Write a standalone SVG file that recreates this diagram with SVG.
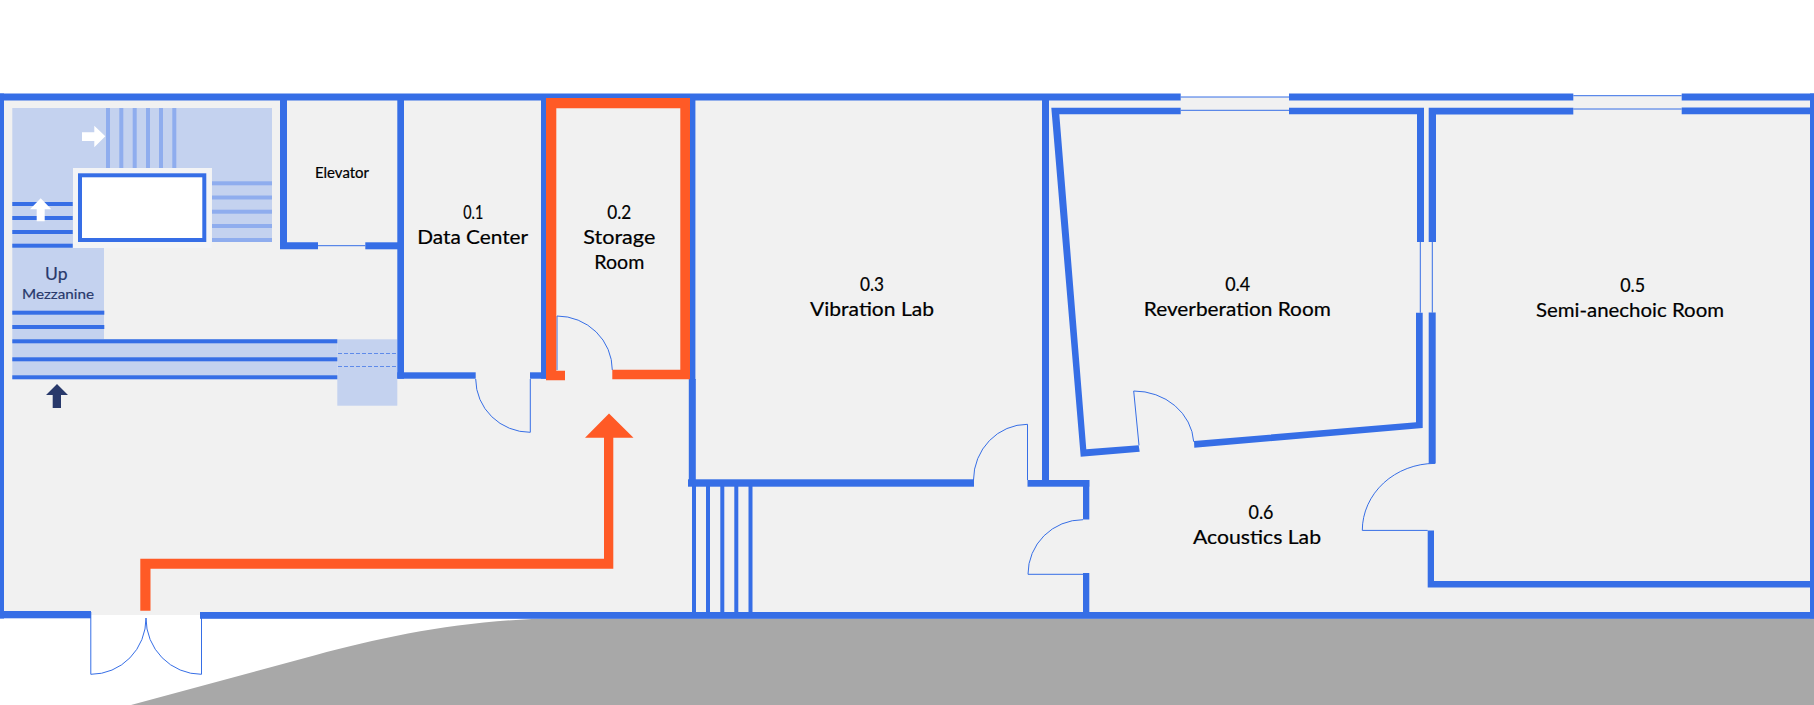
<svg xmlns="http://www.w3.org/2000/svg" width="1814" height="705" viewBox="0 0 1814 705">
<style>
.wall{fill:#366ee6}
.thin{fill:none;stroke:#366ee6;stroke-width:1}
.light{fill:#c4d2ef}
.mid{fill:#8fadee}
.route{fill:#ff5a26}
text{font-family:"Lato","Liberation Sans",sans-serif;font-size:19.5px;fill:#000;stroke:#000;stroke-width:.2;text-anchor:middle}
.nav{fill:#28396b}
text.nav{stroke:#28396b}
</style>
<rect width="1814" height="705" fill="#fff"/>
<path id="ground" d="M131 705L316 655C385 636 470 619 556 618.5L1814 618.5L1814 705Z" fill="#a8a8a8"/>
<rect id="floor" x="0" y="94" width="1814" height="518" fill="#f1f1f1"/>
<rect x="91" y="612" width="109" height="3" fill="#f1f1f1"/>
<g id="window-gaps" fill="#fff">
<rect x="1180.7" y="94" width="108.3" height="3"/>
<rect x="1573.3" y="94" width="108.4" height="2"/>
</g>
<g id="stairs">
<path class="light" d="M12.3 108H272V242H212V168H73V248H104V339H12.3Z"/>
<rect x="73" y="168" width="138.7" height="80" fill="#f3f4f6"/>
<rect x="80" y="175.3" width="124.3" height="64.7" fill="#fff" stroke="#366ee6" stroke-width="4"/>
<g class="mid">
<rect x="106" y="108" width="4" height="60"/><rect x="119.3" y="108" width="4" height="60"/><rect x="132.7" y="108" width="4" height="60"/><rect x="146" y="108" width="4" height="60"/><rect x="159" y="108" width="4" height="60"/><rect x="172.3" y="108" width="4" height="60"/>
<rect x="212" y="181.3" width="60" height="4"/><rect x="212" y="195.5" width="60" height="4"/><rect x="212" y="209.7" width="60" height="4"/><rect x="212" y="224" width="60" height="4"/><rect x="212" y="238" width="60" height="4"/>
</g>
<g class="wall">
<rect x="12.3" y="202" width="60.4" height="4"/><rect x="12.3" y="216" width="60.4" height="4"/><rect x="12.3" y="230" width="60.4" height="4"/><rect x="12.3" y="243.7" width="60.4" height="4"/>
</g>
<path d="M36.7 221.3V209.3H30L40.7 198.3L51.3 209.3H44.7V221.3Z" fill="#fff"/>
<path d="M82 132.3H94.3V125.7L105.3 136.3L94.3 147.3V141H82Z" fill="#fff"/>
<rect class="light" x="12.3" y="339" width="325" height="40"/>
<rect class="light" x="337.3" y="339.3" width="60" height="66.4"/>
<g class="wall">
<rect x="12.3" y="310.7" width="92" height="4"/><rect x="12.3" y="325" width="92" height="4"/>
<rect x="12.3" y="339.3" width="325" height="4"/><rect x="12.3" y="357.3" width="325" height="4"/><rect x="12.3" y="375.3" width="325" height="4"/>
</g>
<path d="M338 353.5H397M338 366.5H397" fill="none" stroke="#5f8bea" stroke-width="1" stroke-dasharray="4 2"/>
<path class="nav" d="M52.7 408V395H46L57 384L68 395H61V408Z"/>
<g id="stairs-south" class="wall">
<rect x="692" y="486" width="4" height="127"/><rect x="706" y="486" width="4" height="127"/><rect x="720.3" y="486" width="4" height="127"/><rect x="734.3" y="486" width="4" height="127"/><rect x="748.5" y="486" width="4" height="127"/>
</g>
</g>
<g id="walls" class="wall">
<rect x="0" y="93.5" width="1180.7" height="7"/>
<rect x="1289" y="93.5" width="284.3" height="7"/>
<rect x="1681.7" y="93.5" width="132.3" height="7"/>
<rect x="0" y="93.5" width="4" height="525"/>
<rect x="1810" y="93.5" width="4" height="525"/>
<rect x="0" y="611" width="91" height="7.3"/>
<rect x="200" y="612" width="1614" height="6.8"/>
<path d="M280 100H287V242.3H318V249.3H280Z"/>
<rect x="365.3" y="242.3" width="38" height="7"/>
<rect x="397.3" y="100" width="6.7" height="278.7"/>
<rect x="397.3" y="372.3" width="78.4" height="6.4"/>
<rect x="530" y="372.3" width="16" height="6.4"/>
<rect x="541" y="100" width="5" height="278.7"/>
<rect x="690" y="100" width="5.4" height="280"/>
<rect x="688.8" y="379" width="7" height="107"/>
<rect x="688" y="479.3" width="286" height="7.4"/>
<rect x="1027.5" y="480" width="61.8" height="6.7"/>
<rect x="1042" y="100" width="7" height="380"/>
<rect x="1083" y="480" width="6.3" height="39.5"/>
<rect x="1083" y="573" width="6.3" height="39"/>
<path d="M1051.3 107.7H1180.7V114.3H1059.3L1086.3 449.3L1138.7 445.3L1139.7 451.7L1080.7 456.7Z"/>
<path d="M1289 107.7H1424V242H1417V114.3H1289Z"/>
<path d="M1416 312.7H1422.7V428L1194.3 447.7L1194 441L1416 422.3Z"/>
<path d="M1428.7 107.7H1573.3V114.4H1436V242H1428.7Z"/>
<rect x="1428.7" y="312.5" width="7" height="151"/>
<path d="M1681.7 107.5H1810V114.3H1681.7Z"/>
<path d="M1427.7 530.4H1434V581H1810V587.5H1427.7Z"/>
</g>
<g id="doors" class="thin">
<path d="M318 245.7H365.3"/>
<path d="M475.7 379A54.5 53.5 0 0 0 530.3 432.3V379"/>
<path d="M557 370V316A55.5 54 0 0 1 612.3 370"/>
<path d="M973.5 480A54 56 0 0 1 1027.5 424.3V480"/>
<path d="M1083 519.7A55 54.5 0 0 0 1028 574.3H1083"/>
<path d="M1139 445.3L1133.7 391A60 54 0 0 1 1193.7 441.7"/>
<path d="M1435 463.4A72.7 67 0 0 0 1362.3 530.4H1427.7"/>
<path d="M90.8 612V674.3A55 56 0 0 0 146 618A55.5 56 0 0 0 201.5 674.3V612"/>
<path d="M1180.7 97H1289M1180.7 110.3H1289"/>
<path d="M1573.3 95.7H1681.7M1573.3 109H1681.7"/>
<path d="M1420.3 242V312.7M1432.3 242V312.7"/>
</g>
<g id="connectors">
<path class="route" d="M140.3 610.7V558.7H604V437.7H585L609 413.5L633.5 437.7H613.3V568.7H150.5V610.7Z"/>
</g>
<g id="room-02-outline">
<path class="route" fill-rule="evenodd" d="M546 98H690V379.3H612.3V369.7H680.3V108.3H556.3V370.7H565V380.3H546Z"/>
</g>
<g id="elevator"><text x="342" y="178.3" style="font-size:14.5px" textLength="54" lengthAdjust="spacingAndGlyphs">Elevator</text></g>
<g id="mezzanine">
<text class="nav" x="56.3" y="280" style="font-size:17.5px">Up</text>
<text class="nav" x="58" y="299" style="font-size:14px" textLength="72" lengthAdjust="spacingAndGlyphs">Mezzanine</text>
</g>
<g id="room-01"><text x="473.3" y="219" textLength="20" lengthAdjust="spacingAndGlyphs">0.1</text><text x="472.7" y="244" textLength="111" lengthAdjust="spacingAndGlyphs">Data Center</text></g>
<g id="room-02"><text x="619.3" y="219" textLength="24" lengthAdjust="spacingAndGlyphs">0.2</text><text x="619.3" y="244" textLength="72" lengthAdjust="spacingAndGlyphs">Storage</text><text x="619.3" y="269" textLength="50" lengthAdjust="spacingAndGlyphs">Room</text></g>
<g id="room-03"><text x="872" y="291" textLength="24" lengthAdjust="spacingAndGlyphs">0.3</text><text x="872" y="316" textLength="124" lengthAdjust="spacingAndGlyphs">Vibration Lab</text></g>
<g id="room-04"><text x="1237.7" y="291" textLength="25" lengthAdjust="spacingAndGlyphs">0.4</text><text x="1237.3" y="316" textLength="187" lengthAdjust="spacingAndGlyphs">Reverberation Room</text></g>
<g id="room-05"><text x="1632.7" y="291.5" textLength="25" lengthAdjust="spacingAndGlyphs">0.5</text><text x="1630" y="316.5" textLength="188" lengthAdjust="spacingAndGlyphs">Semi-anechoic Room</text></g>
<g id="room-06"><text x="1261" y="519" textLength="25" lengthAdjust="spacingAndGlyphs">0.6</text><text x="1257" y="544.3" textLength="128" lengthAdjust="spacingAndGlyphs">Acoustics Lab</text></g>
</svg>
